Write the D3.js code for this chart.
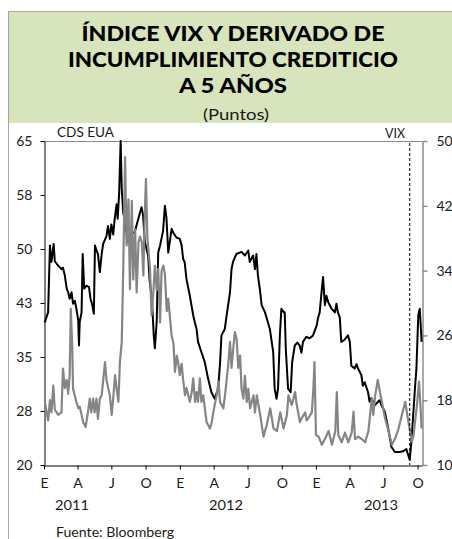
<!DOCTYPE html>
<html>
<head>
<meta charset="utf-8">
<script src="https://cdn.jsdelivr.net/npm/d3@7"></script>
<style>
  body { margin: 0; background: #fff; }
  text { font-family: Lato, "Noto Sans", sans-serif; fill: #1a1a1a; }
</style>
</head>
<body>
<div id="chart"></div>
<script>
// CDS EUA (left axis)
var cdsEua = [
  ["2011-01-03", 39.8], ["2011-01-12", 41.2], ["2011-01-17", 50.5], ["2011-01-21", 48.2],
  ["2011-01-27", 50.7], ["2011-01-30", 48.3], ["2011-02-08", 47.7], ["2011-02-17", 47.2],
  ["2011-02-21", 47.4], ["2011-02-26", 46.3], ["2011-03-03", 44.5], ["2011-03-07", 44.0],
  ["2011-03-11", 43.1], ["2011-03-16", 44.0], ["2011-03-20", 42.4], ["2011-03-25", 42.8],
  ["2011-03-29", 41.7], ["2011-04-03", 40.1], ["2011-04-05", 36.6], ["2011-04-07", 39.9],
  ["2011-04-12", 41.2], ["2011-04-15", 49.3], ["2011-04-19", 44.5], ["2011-04-25", 44.9],
  ["2011-05-02", 44.7], ["2011-05-06", 43.1], ["2011-05-10", 42.4], ["2011-05-15", 41.0],
  ["2011-05-18", 50.5], ["2011-05-22", 49.8], ["2011-05-26", 49.3], ["2011-05-31", 46.8],
  ["2011-06-05", 49.3], ["2011-06-09", 50.7], ["2011-06-18", 51.8], ["2011-06-22", 53.2],
  ["2011-06-27", 51.4], ["2011-07-01", 53.4], ["2011-07-06", 52.0], ["2011-07-10", 54.2],
  ["2011-07-15", 56.2], ["2011-07-18", 54.2], ["2011-07-22", 57.8], ["2011-07-26", 65.0],
  ["2011-07-29", 58.3], ["2011-08-02", 55.0], ["2011-08-06", 54.2], ["2011-08-14", 51.0],
  ["2011-08-22", 52.0], ["2011-09-02", 52.4], ["2011-09-20", 55.8], ["2011-09-24", 54.8],
  ["2011-09-29", 51.0], ["2011-10-08", 49.0], ["2011-10-12", 45.6], ["2011-10-18", 43.0],
  ["2011-10-23", 38.0], ["2011-10-26", 36.2], ["2011-10-31", 40.0], ["2011-11-04", 49.5],
  ["2011-11-09", 50.5], ["2011-11-17", 52.5], ["2011-11-22", 56.0], ["2011-11-26", 54.4],
  ["2011-12-01", 49.5], ["2011-12-10", 52.8], ["2011-12-14", 52.3], ["2011-12-23", 51.6],
  ["2012-01-01", 51.4], ["2012-01-06", 50.5], ["2012-01-10", 48.6], ["2012-01-14", 48.2],
  ["2012-01-19", 45.8], ["2012-01-28", 43.5], ["2012-02-06", 40.8], ["2012-02-10", 39.9],
  ["2012-02-15", 38.9], ["2012-02-19", 37.1], ["2012-02-28", 35.7], ["2012-03-08", 34.3],
  ["2012-03-17", 32.0], ["2012-03-26", 30.1], ["2012-04-04", 29.2], ["2012-04-13", 30.6],
  ["2012-04-18", 34.0], ["2012-04-22", 38.0], ["2012-05-01", 38.9], ["2012-05-06", 40.8],
  ["2012-05-15", 44.0], ["2012-05-19", 47.2], ["2012-05-23", 48.2], ["2012-06-01", 49.3],
  ["2012-06-15", 49.6], ["2012-06-24", 49.1], ["2012-07-03", 49.8], ["2012-07-07", 48.2],
  ["2012-07-16", 49.1], ["2012-07-21", 47.2], ["2012-07-25", 49.3], ["2012-07-29", 46.3],
  ["2012-08-03", 44.5], ["2012-08-08", 42.2], ["2012-08-17", 41.2], ["2012-08-25", 39.8],
  ["2012-08-30", 38.9], ["2012-09-08", 35.7], ["2012-09-12", 30.6], ["2012-09-17", 29.2],
  ["2012-09-21", 30.6], ["2012-09-26", 38.0], ["2012-09-30", 41.7], ["2012-10-07", 41.2],
  ["2012-10-09", 41.2], ["2012-10-12", 36.0], ["2012-10-18", 30.6], ["2012-10-25", 30.1],
  ["2012-10-29", 34.3], ["2012-11-05", 36.6], ["2012-11-12", 37.0], ["2012-11-18", 36.6],
  ["2012-11-23", 35.6], ["2012-11-27", 37.1], ["2012-12-06", 37.8], ["2012-12-15", 37.6],
  ["2012-12-24", 38.0], ["2013-01-03", 39.4], ["2013-01-07", 40.5], ["2013-01-11", 41.2],
  ["2013-01-16", 44.0], ["2013-01-20", 46.1], ["2013-01-25", 42.2], ["2013-01-29", 43.5],
  ["2013-02-03", 42.6], ["2013-02-12", 41.7], ["2013-02-21", 41.2], ["2013-02-25", 42.4],
  ["2013-03-01", 41.2], ["2013-03-06", 40.5], ["2013-03-10", 37.1], ["2013-03-19", 37.4],
  ["2013-03-28", 38.0], ["2013-04-02", 37.1], ["2013-04-06", 33.8], ["2013-04-15", 33.4],
  ["2013-04-20", 34.0], ["2013-04-24", 33.4], ["2013-05-03", 32.5], ["2013-05-07", 31.0],
  ["2013-05-12", 31.5], ["2013-05-21", 30.1], ["2013-05-25", 28.8], ["2013-05-30", 29.3],
  ["2013-06-08", 28.3], ["2013-06-21", 29.0], ["2013-06-26", 28.3], ["2013-07-05", 27.4],
  ["2013-07-14", 25.1], ["2013-07-23", 22.5], ["2013-08-01", 21.8], ["2013-08-14", 21.8],
  ["2013-08-23", 21.9], ["2013-09-01", 22.2], ["2013-09-10", 20.7], ["2013-09-15", 23.5],
  ["2013-09-24", 30.6], ["2013-09-28", 33.4], ["2013-10-03", 40.8], ["2013-10-07", 41.7],
  ["2013-10-12", 37.1]
];

// VIX (right axis)
var vix = [
  ["2011-01-03", 17.8], ["2011-01-08", 16.6], ["2011-01-12", 15.5], ["2011-01-17", 18.0],
  ["2011-01-21", 16.5], ["2011-01-26", 19.8], ["2011-01-30", 16.8], ["2011-02-04", 16.5],
  ["2011-02-08", 16.2], ["2011-02-17", 16.5], ["2011-02-21", 21.9], ["2011-02-26", 19.5],
  ["2011-03-03", 20.5], ["2011-03-07", 18.8], ["2011-03-11", 21.1], ["2011-03-14", 29.3],
  ["2011-03-18", 24.5], ["2011-03-20", 19.4], ["2011-03-29", 17.8], ["2011-04-03", 17.0],
  ["2011-04-07", 17.2], ["2011-04-12", 16.2], ["2011-04-16", 15.3], ["2011-04-23", 14.7],
  ["2011-04-29", 16.5], ["2011-05-04", 18.2], ["2011-05-08", 16.5], ["2011-05-13", 18.2],
  ["2011-05-17", 16.5], ["2011-05-22", 18.2], ["2011-05-26", 15.7], ["2011-05-31", 18.2],
  ["2011-06-05", 18.6], ["2011-06-14", 22.7], ["2011-06-18", 20.5], ["2011-06-23", 19.4],
  ["2011-06-27", 18.6], ["2011-07-02", 16.2], ["2011-07-06", 18.2], ["2011-07-11", 21.1],
  ["2011-07-15", 19.5], ["2011-07-20", 17.8], ["2011-07-24", 22.7], ["2011-07-29", 25.2],
  ["2011-08-02", 34.2], ["2011-08-07", 48.0], ["2011-08-11", 37.1], ["2011-08-16", 42.8],
  ["2011-08-20", 31.7], ["2011-08-25", 42.6], ["2011-08-29", 32.9], ["2011-09-03", 39.1],
  ["2011-09-07", 31.3], ["2011-09-12", 37.5], ["2011-09-16", 38.2], ["2011-09-21", 37.5],
  ["2011-09-25", 33.4], ["2011-09-29", 41.2], ["2011-10-02", 45.3], ["2011-10-06", 38.0],
  ["2011-10-13", 34.2], ["2011-10-17", 28.5], ["2011-10-22", 31.4], ["2011-10-26", 34.6],
  ["2011-10-31", 31.6], ["2011-11-04", 34.2], ["2011-11-09", 27.6], ["2011-11-13", 34.0],
  ["2011-11-18", 34.6], ["2011-11-22", 33.5], ["2011-11-27", 29.0], ["2011-12-01", 30.5],
  ["2011-12-06", 28.0], ["2011-12-10", 26.0], ["2011-12-15", 25.0], ["2011-12-19", 21.5],
  ["2011-12-24", 23.5], ["2011-12-28", 22.5], ["2012-01-01", 21.1], ["2012-01-06", 22.5],
  ["2012-01-10", 20.5], ["2012-01-15", 18.6], ["2012-01-19", 19.5], ["2012-01-28", 17.8],
  ["2012-02-02", 19.0], ["2012-02-06", 20.7], ["2012-02-11", 17.8], ["2012-02-15", 19.0],
  ["2012-02-19", 17.8], ["2012-02-24", 20.7], ["2012-02-28", 17.8], ["2012-03-04", 18.6],
  ["2012-03-13", 15.3], ["2012-03-22", 14.5], ["2012-03-27", 15.3], ["2012-03-31", 16.5],
  ["2012-04-09", 18.6], ["2012-04-14", 20.3], ["2012-04-18", 17.8], ["2012-04-27", 17.0],
  ["2012-05-02", 18.8], ["2012-05-10", 22.3], ["2012-05-15", 25.2], ["2012-05-19", 22.0],
  ["2012-05-24", 24.5], ["2012-05-28", 26.4], ["2012-06-02", 25.5], ["2012-06-06", 22.0],
  ["2012-06-11", 23.5], ["2012-06-15", 19.4], ["2012-06-20", 18.2], ["2012-06-24", 21.0],
  ["2012-06-29", 17.8], ["2012-07-03", 19.4], ["2012-07-08", 17.0], ["2012-07-17", 18.6],
  ["2012-07-21", 16.5], ["2012-07-26", 18.6], ["2012-08-04", 16.2], ["2012-08-13", 13.5],
  ["2012-08-22", 15.0], ["2012-08-31", 17.0], ["2012-09-09", 14.5], ["2012-09-18", 14.2],
  ["2012-09-27", 16.5], ["2012-10-06", 14.5], ["2012-10-15", 16.2], ["2012-10-19", 18.6],
  ["2012-10-28", 17.4], ["2012-11-06", 19.0], ["2012-11-10", 17.5], ["2012-11-19", 15.3],
  ["2012-11-24", 15.8], ["2012-12-03", 16.5], ["2012-12-07", 15.5], ["2012-12-12", 15.8],
  ["2012-12-21", 16.5], ["2012-12-25", 19.4], ["2012-12-28", 22.7], ["2013-01-01", 13.7],
  ["2013-01-08", 13.5], ["2013-01-17", 12.5], ["2013-01-26", 13.3], ["2013-02-04", 14.2],
  ["2013-02-13", 12.5], ["2013-02-22", 14.2], ["2013-02-26", 19.0], ["2013-03-02", 13.7],
  ["2013-03-11", 12.8], ["2013-03-20", 14.0], ["2013-03-29", 12.8], ["2013-04-07", 14.0],
  ["2013-04-12", 16.6], ["2013-04-16", 13.2], ["2013-04-25", 13.5], ["2013-05-04", 13.2],
  ["2013-05-13", 12.8], ["2013-05-22", 14.2], ["2013-05-31", 18.2], ["2013-06-04", 16.2],
  ["2013-06-09", 18.5], ["2013-06-16", 20.5], ["2013-06-22", 19.0], ["2013-06-27", 17.8],
  ["2013-07-06", 15.7], ["2013-07-15", 14.2], ["2013-07-24", 12.5], ["2013-08-02", 13.3],
  ["2013-08-11", 14.5], ["2013-08-20", 16.2], ["2013-08-29", 17.8], ["2013-09-02", 16.6],
  ["2013-09-08", 14.9], ["2013-09-16", 12.9], ["2013-09-20", 13.6], ["2013-09-29", 17.2],
  ["2013-10-05", 20.3], ["2013-10-09", 17.2], ["2013-10-12", 14.5]
];

var titleLines = ["ÍNDICE VIX Y DERIVADO DE", "INCUMPLIMIENTO CREDITICIO", "A 5 AÑOS"];
var leftTicks = [20, 27.5, 35, 42.5, 50, 57.5, 65];
var rightTicks = [10, 18, 26, 34, 42, 50];
var monthLabels = ["E", "A", "J", "O"];
var yearLabels = [["2011-03-17", "2011"], ["2012-05-04", "2012"], ["2013-06-25", "2013"]];
var markerDate = "2013-09-10";

var parseDate = d3.timeParse("%Y-%m-%d");
var W = 452, H = 539;
var margin = {top: 141, left: 44, right: 422, bottom: 465};
var titleWidths = [303, 330, 108];

var svg = d3.select("#chart").append("svg")
    .attr("width", W)
    .attr("height", H);

// frame + green header
svg.append("rect")
    .attr("x", 8.5).attr("y", 11.5)
    .attr("width", 470).attr("height", 560)
    .attr("fill", "none").attr("stroke", "#a6a6a6");
svg.append("rect")
    .attr("x", 9).attr("y", 12)
    .attr("width", W - 9).attr("height", 111)
    .attr("fill", "#d8e4bc");

svg.selectAll(".title").data(titleLines).enter().append("text")
    .attr("class", "title")
    .attr("x", 233)
    .attr("y", function(d, i) { return 41 + i * 26; })
    .attr("text-anchor", "middle")
    .attr("textLength", function(d, i) { return titleWidths[i]; })
    .attr("lengthAdjust", "spacingAndGlyphs")
    .style("font-size", "20px")
    .style("font-weight", "900")
    .style("fill", "#000")
    .text(function(d) { return d; });

svg.append("text")
    .attr("x", 236).attr("y", 120)
    .attr("text-anchor", "middle")
    .attr("textLength", 66)
    .attr("lengthAdjust", "spacingAndGlyphs")
    .style("font-size", "15px")
    .text("(Puntos)");

// scales
var x = d3.scaleTime()
    .domain([parseDate("2011-01-01"), parseDate("2013-10-13")])
    .range([margin.left, margin.right]);
var yL = d3.scaleLinear().domain([20, 65]).range([margin.bottom, margin.top]);
var yR = d3.scaleLinear().domain([10, 50]).range([margin.bottom, margin.top]);

// top border
svg.append("line")
    .attr("x1", margin.left).attr("x2", margin.right)
    .attr("y1", margin.top + 0.5).attr("y2", margin.top + 0.5)
    .attr("stroke", "#8c8c8c");

// left axis
var gL = svg.append("g")
    .attr("transform", "translate(" + (margin.left + 0.5) + ",0)")
    .call(d3.axisLeft(yL).tickValues(leftTicks).tickSize(4).tickSizeOuter(0)
      .tickPadding(8).tickFormat(d3.format(".0f")));
gL.selectAll("path, line").attr("stroke", "#000");
gL.selectAll("text").style("font-size", "14px").attr("fill", "#1a1a1a");

// right axis
var gR = svg.append("g")
    .attr("transform", "translate(" + (margin.right + 0.5) + ",0)")
    .call(d3.axisRight(yR).tickValues(rightTicks).tickSize(5).tickSizeOuter(0).tickPadding(9));
gR.selectAll("path, line").attr("stroke", "#8c8c8c").attr("stroke-width", 1.5);
gR.selectAll("text").style("font-size", "14px").attr("fill", "#1a1a1a");

// bottom axis
var monthTicks = d3.timeMonth.every(3).range(parseDate("2011-01-01"), parseDate("2013-10-13"));
var gB = svg.append("g")
    .attr("transform", "translate(0," + (margin.bottom + 0.5) + ")")
    .call(d3.axisBottom(x).tickValues(monthTicks).tickSize(4).tickSizeOuter(0).tickPadding(9)
      .tickFormat(function(d) { return monthLabels[d.getMonth() / 3]; }));
gB.selectAll("path, line").attr("stroke", "#000");
gB.selectAll("text").style("font-size", "14px").attr("fill", "#1a1a1a");

svg.selectAll(".year").data(yearLabels).enter().append("text")
    .attr("class", "year")
    .attr("x", function(d) { return x(parseDate(d[0])); })
    .attr("y", 510)
    .attr("text-anchor", "middle")
    .attr("textLength", 34)
    .attr("lengthAdjust", "spacingAndGlyphs")
    .style("font-size", "14px")
    .text(function(d) { return d[1]; });

// lines
var lineL = d3.line()
    .x(function(d) { return x(parseDate(d[0])); })
    .y(function(d) { return yL(d[1]); });
var lineR = d3.line()
    .x(function(d) { return x(parseDate(d[0])); })
    .y(function(d) { return yR(d[1]); });

svg.append("path")
    .datum(cdsEua)
    .attr("fill", "none")
    .attr("stroke", "#000")
    .attr("stroke-width", 2)
    .attr("stroke-linejoin", "round")
    .attr("d", lineL);

svg.append("path")
    .datum(vix)
    .attr("fill", "none")
    .attr("stroke", "#858585")
    .attr("stroke-width", 2.2)
    .attr("stroke-linejoin", "round")
    .attr("d", lineR);

// dashed marker
svg.append("line")
    .attr("x1", x(parseDate(markerDate))).attr("x2", x(parseDate(markerDate)))
    .attr("y1", margin.top + 2).attr("y2", margin.bottom)
    .attr("stroke", "#000")
    .attr("stroke-width", 1)
    .attr("stroke-dasharray", "3,2");

// series labels
svg.append("text").attr("x", 57).attr("y", 137)
    .attr("textLength", 57).attr("lengthAdjust", "spacingAndGlyphs")
    .style("font-size", "14px").text("CDS EUA");
svg.append("text").attr("x", 385).attr("y", 138)
    .attr("textLength", 20).attr("lengthAdjust", "spacingAndGlyphs")
    .style("font-size", "14px").text("VIX");

svg.append("text").attr("x", 56).attr("y", 537)
    .attr("textLength", 118).attr("lengthAdjust", "spacingAndGlyphs")
    .style("font-size", "14px").text("Fuente: Bloomberg");
</script>
</body>
</html>
